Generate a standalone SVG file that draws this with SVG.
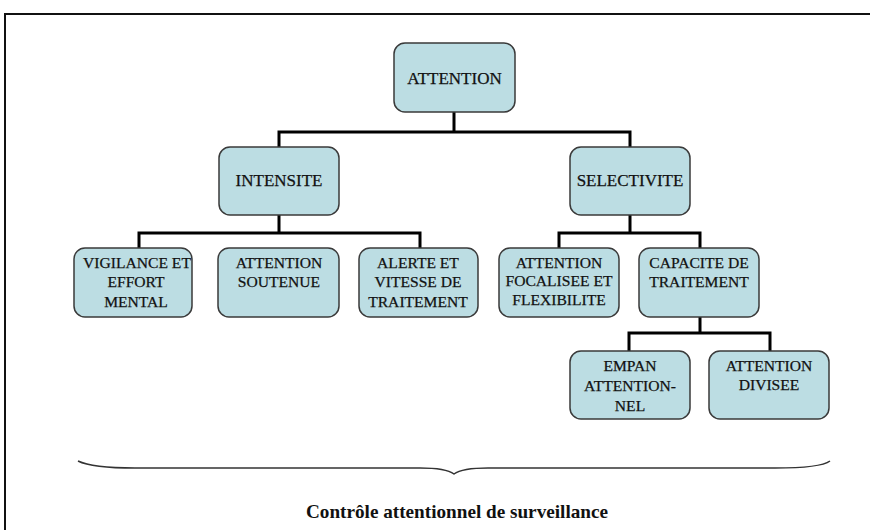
<svg xmlns="http://www.w3.org/2000/svg" width="870" height="530" viewBox="0 0 870 530">
<style>
.box{fill:#bcdde3;stroke:#3a3a3a;stroke-width:1.5}
.t{font-family:"Liberation Serif","Times New Roman",serif;font-size:15.6px;fill:#111;stroke:#111;stroke-width:0.25;text-anchor:middle}
.b{font-size:17px}
.c{fill:none;stroke:#000;stroke-width:3}
</style>
<rect x="5" y="14" width="880" height="540" fill="#fff" stroke="#111" stroke-width="2"/>
<g id="connectors">
<path class="c" d="M454,112V132M279,147V132H630V147"/>
<path class="c" d="M279,215V233M139,248V233H420V248"/>
<path class="c" d="M630,215V233M559,248V233H700V248"/>
<path class="c" d="M700,317V333M629,351V333H770V351"/>
</g>
<g id="attention"><rect class="box" x="394" y="43" width="121" height="69" rx="11"/><text class="t b" x="454.5" y="84">ATTENTION</text></g>
<g id="intensite"><rect class="box" x="219" y="147" width="120" height="68" rx="11"/><text class="t b" x="279" y="186">INTENSITE</text></g>
<g id="selectivite"><rect class="box" x="570" y="147" width="120" height="68" rx="11"/><text class="t b" x="630" y="186">SELECTIVITE</text></g>
<g id="vigilance"><rect class="box" x="74" y="248" width="118" height="69" rx="11"/><text class="t" x="137" y="268">VIGILANCE ET</text><text class="t" x="136" y="287">EFFORT</text><text class="t" x="136" y="307">MENTAL</text></g>
<g id="soutenue"><rect class="box" x="218" y="248" width="121" height="69" rx="11"/><text class="t" x="279" y="268">ATTENTION</text><text class="t" x="279" y="287">SOUTENUE</text></g>
<g id="alerte"><rect class="box" x="359" y="248" width="119" height="69" rx="11"/><text class="t" x="418" y="268">ALERTE ET</text><text class="t" x="418" y="287">VITESSE DE</text><text class="t" x="418" y="307">TRAITEMENT</text></g>
<g id="focalisee"><rect class="box" x="499" y="248" width="120" height="69" rx="11"/><text class="t" x="559" y="268">ATTENTION</text><text class="t" x="559" y="286">FOCALISEE ET</text><text class="t" x="559" y="305">FLEXIBILITE</text></g>
<g id="capacite"><rect class="box" x="639" y="248" width="120" height="69" rx="11"/><text class="t" x="699" y="268">CAPACITE DE</text><text class="t" x="699" y="287">TRAITEMENT</text></g>
<g id="empan"><rect class="box" x="570" y="351" width="120" height="68" rx="11"/><text class="t" x="630" y="371">EMPAN</text><text class="t" x="630" y="391">ATTENTION-</text><text class="t" x="630" y="411">NEL</text></g>
<g id="divisee"><rect class="box" x="709" y="351" width="120" height="68" rx="11"/><text class="t" x="769" y="371">ATTENTION</text><text class="t" x="769" y="390">DIVISEE</text></g>
<path d="M78,461C90,467 110,468 135,468H420C440,468 450,471 454,474C458,471 468,468 488,468H775C800,468 822,467 830,461" fill="none" stroke="#333" stroke-width="1.5"/>
<text x="457" y="518" textLength="302" lengthAdjust="spacingAndGlyphs" style="font-family:'Liberation Serif','Times New Roman',serif;font-size:19px;font-weight:bold;text-anchor:middle;fill:#111">Contrôle attentionnel de surveillance</text>
</svg>
